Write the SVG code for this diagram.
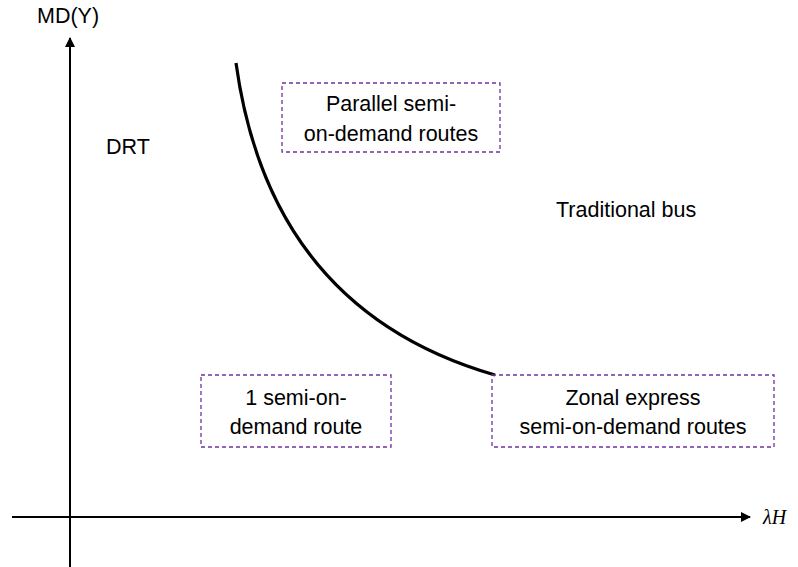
<svg xmlns="http://www.w3.org/2000/svg" width="798" height="567" viewBox="0 0 798 567">
<style>
.t{font-family:"Liberation Sans",Arial,sans-serif;font-size:21.5px;fill:#000}
.c{text-anchor:middle}
.box{fill:none;stroke:#7030A0;stroke-width:1.3;stroke-dasharray:4,3}
.ax{stroke:#000;stroke-width:2;fill:none}
</style>
<defs>
<marker id="ah" viewBox="0 0 10 10" refX="9" refY="5" markerWidth="5" markerHeight="5" orient="auto">
<path d="M0,0 L10,5 L0,10 z" fill="#000"/>
</marker>
</defs>
<rect width="798" height="567" fill="#fff"/>
<g id="connectors">
<line class="ax" x1="70" y1="567" x2="70" y2="38" marker-end="url(#ah)"/>
<line class="ax" x1="12" y1="517" x2="750" y2="517" marker-end="url(#ah)"/>
<path d="M236,63 Q270,310 495,375" fill="none" stroke="#000" stroke-width="3.2"/>
</g>
<g id="label-y"><text class="t" x="37" y="23">MD(Y)</text></g>
<g id="label-x"><text x="763" y="524" font-family="'Liberation Serif',serif" font-style="italic" font-size="20">λH</text></g>
<g id="drt"><text class="t" x="106" y="154">DRT</text></g>
<g id="traditional"><text class="t" x="556" y="217">Traditional bus</text></g>
<g id="parallel">
<rect class="box" x="282" y="83" width="218" height="69"/>
<text class="t c" x="391" y="111">Parallel semi-</text>
<text class="t c" x="391" y="141">on-demand routes</text>
</g>
<g id="one-route">
<rect class="box" x="201" y="375" width="190" height="72"/>
<text class="t c" x="296" y="405">1 semi-on-</text>
<text class="t c" x="296" y="434">demand route</text>
</g>
<g id="zonal">
<rect class="box" x="492" y="375" width="282" height="72"/>
<text class="t c" x="633" y="405">Zonal express</text>
<text class="t c" x="633" y="434">semi-on-demand routes</text>
</g>
</svg>
